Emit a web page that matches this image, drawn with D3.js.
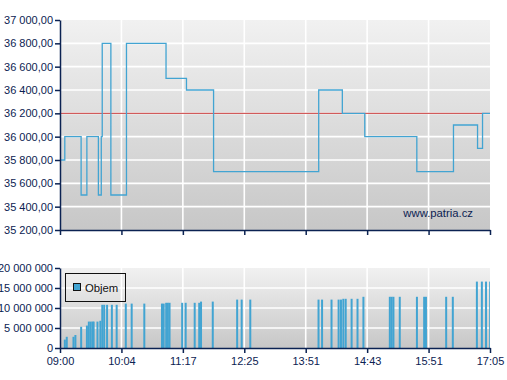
<!DOCTYPE html>
<html><head><meta charset="utf-8">
<script src="https://cdn.jsdelivr.net/npm/d3@7"></script>
<style>body{margin:0;background:#fff}svg{display:block;font-family:"Liberation Sans",Arial,sans-serif}</style>
</head><body><svg id="c" width="507" height="380"></svg>
<script>
// ---- data ----
const tickTimes = ["09:00","10:04","11:17","12:25","13:51","14:43","15:51","17:05"];
const priceTimes = ["09:00","09:05","09:22","09:28","09:40","09:43","09:44","09:53","10:10","10:57","11:21","11:51","14:02","14:22","14:41","15:38","16:21","16:50","16:56","17:05"];
const priceValues = [35800,36000,35500,36000,35500,36000,36800,35500,36800,36500,36400,35700,36400,36200,36000,35700,36100,35900,36200,36200];
const refPrice = 36200;
const priceTicks = [35200,35400,35600,35800,36000,36200,36400,36600,36800,37000];
const volTimes = ["09:04","09:06","09:13","09:15","09:21","09:27","09:29","09:31","09:33","09:34","09:38","09:41","09:43","09:45","09:48","09:53","09:58",
  "10:08","10:15","10:30","10:51","10:53","10:56","10:58","11:00","11:15","11:19","11:29","11:34","11:36","11:49","12:16","12:21","12:32",
  "14:01","14:04","14:12","14:18","14:20","14:22","14:24","14:29","14:34","14:39","15:07","15:09","15:11","15:18","15:37","15:45","15:47","16:11","16:19","16:48","16:54","16:59","17:04"];
const volValues = [2.1e6,2.8e6,2.8e6,3.25e6,5.3e6,5.6e6,6.6e6,6.6e6,6.6e6,6.6e6,6.6e6,6.8e6,10.8e6,10.8e6,10.8e6,10.8e6,10.8e6,
  11.1e6,11.1e6,11.1e6,11.1e6,11.1e6,11.3e6,11.3e6,11.3e6,11.3e6,11.3e6,11.3e6,11.3e6,11.6e6,11.6e6,12.1e6,12.1e6,12.1e6,
  12.1e6,12.1e6,12.1e6,12.1e6,12.1e6,12.3e6,12.3e6,12.3e6,12.3e6,12.8e6,12.8e6,12.8e6,12.8e6,12.8e6,12.8e6,12.8e6,12.8e6,12.8e6,12.8e6,16.6e6,16.6e6,16.6e6,16.6e6];
const volTicks = [0,5e6,10e6,15e6,20e6];
const legendLabel = "Objem";
const watermark = "www.patria.cz";

// ---- helpers ----
const toMin = s => { const [h,m] = s.split(":").map(Number); return h*60+m; };
const loc = d3.formatLocale({decimal:",", thousands:" ", grouping:[3], currency:["",""]});
const fPrice = loc.format(",.2f");
const fVol = loc.format(",d");

const svg = d3.select("#c");
const W = {l:60, r:490};
const main = {t:20, b:230};
const vol = {t:268, b:348};
const navy = "#0b2252";
const blue = "#42a4d2";

const tickMin = tickTimes.map(toMin);
const x = d3.scaleLinear().domain(tickMin)
  .range(tickMin.map((d,i)=> W.l + i*(W.r-W.l)/(tickMin.length-1)));
const y = d3.scaleLinear().domain([35200,37000]).range([main.b, main.t]);
const yv = d3.scaleLinear().domain([0,20e6]).range([vol.b, vol.t]);

const defs = svg.append("defs");
const g = defs.append("linearGradient").attr("id","bg").attr("x1",0).attr("y1",0).attr("x2",0).attr("y2",1);
g.append("stop").attr("offset","0%").attr("stop-color","#f1f1f1");
g.append("stop").attr("offset","100%").attr("stop-color","#c7c7c7");
defs.append("clipPath").attr("id","cm").append("rect").attr("x",W.l).attr("y",main.t).attr("width",W.r-W.l).attr("height",main.b-main.t);
defs.append("clipPath").attr("id","cv").append("rect").attr("x",W.l).attr("y",vol.t).attr("width",W.r-W.l).attr("height",vol.b-vol.t);

function panel(top, bottom, yScale, yTickVals){
  svg.append("rect").attr("x",W.l).attr("y",top).attr("width",W.r-W.l).attr("height",bottom-top).attr("fill","url(#bg)");
  svg.append("g").selectAll("line").data(yTickVals.filter(v=>yScale(v)>top+0.5 && yScale(v)<bottom-0.5)).join("line")
    .attr("x1",W.l).attr("x2",W.r).attr("y1",d=>yScale(d)).attr("y2",d=>yScale(d))
    .attr("stroke","#fff").attr("stroke-width",1.6);
  svg.append("g").selectAll("line").data(tickMin.slice(1,-1)).join("line")
    .attr("x1",d=>x(d)).attr("x2",d=>x(d)).attr("y1",top).attr("y2",bottom)
    .attr("stroke","#fff").attr("stroke-width",1.6);
}

function axes(top, bottom, yScale, yTickVals, fmt, showXLabels){
  const ya = svg.append("g").attr("transform",`translate(${W.l},0)`)
    .call(d3.axisLeft(yScale).tickValues(yTickVals).tickFormat(fmt).tickSize(5).tickSizeOuter(0).tickPadding(2));
  const xa = svg.append("g").attr("transform",`translate(0,${bottom})`)
    .call(d3.axisBottom(x).tickValues(tickMin).tickFormat((d,i)=> showXLabels ? tickTimes[i] : "").tickSize(5).tickSizeOuter(0).tickPadding(4));
  [ya,xa].forEach(a=>{
    a.select(".domain").attr("stroke",navy).attr("stroke-width",1.5);
    a.selectAll(".tick line").attr("stroke",navy).attr("stroke-width",1.5);
    a.selectAll("text").attr("fill",navy).attr("font-size",11).attr("font-family","'Liberation Sans',Arial,sans-serif");
  });
}

// main panel
panel(main.t, main.b, y, priceTicks);
svg.append("line").attr("x1",W.l).attr("x2",W.r).attr("y1",y(refPrice)).attr("y2",y(refPrice))
  .attr("stroke","#c83a3a").attr("stroke-width",1);
const line = d3.line().x(d=>x(toMin(d[0]))).y(d=>y(d[1])).curve(d3.curveStepAfter);
svg.append("path").datum(d3.zip(priceTimes, priceValues)).attr("clip-path","url(#cm)")
  .attr("d",line).attr("fill","none").attr("stroke",blue).attr("stroke-width",1.3);
svg.append("text").attr("x",473).attr("y",217).attr("text-anchor","end").attr("font-size",11.3)
  .attr("fill",navy).text(watermark);
axes(main.t, main.b, y, priceTicks, fPrice, false);

// volume panel
panel(vol.t, vol.b, yv, volTicks);
svg.append("g").attr("clip-path","url(#cv)").selectAll("rect").data(d3.zip(volTimes, volValues)).join("rect")
  .attr("x",d=>x(toMin(d[0]))).attr("width",2)
  .attr("y",d=>yv(d[1])).attr("height",d=>yv(0)-yv(d[1])).attr("fill",blue);
const lg = svg.append("g");
lg.append("rect").attr("x",65.5).attr("y",273.5).attr("width",60).attr("height",28).attr("fill","none").attr("stroke","#111").attr("stroke-width",1);
lg.append("rect").attr("x",73.5).attr("y",283.5).attr("width",7).attr("height",7).attr("fill",blue).attr("stroke","#111").attr("stroke-width",1);
lg.append("text").attr("x",85).attr("y",291.5).attr("font-size",11.3).attr("fill","#111").text(legendLabel);
axes(vol.t, vol.b, yv, volTicks, fVol, true);
</script></body></html>
